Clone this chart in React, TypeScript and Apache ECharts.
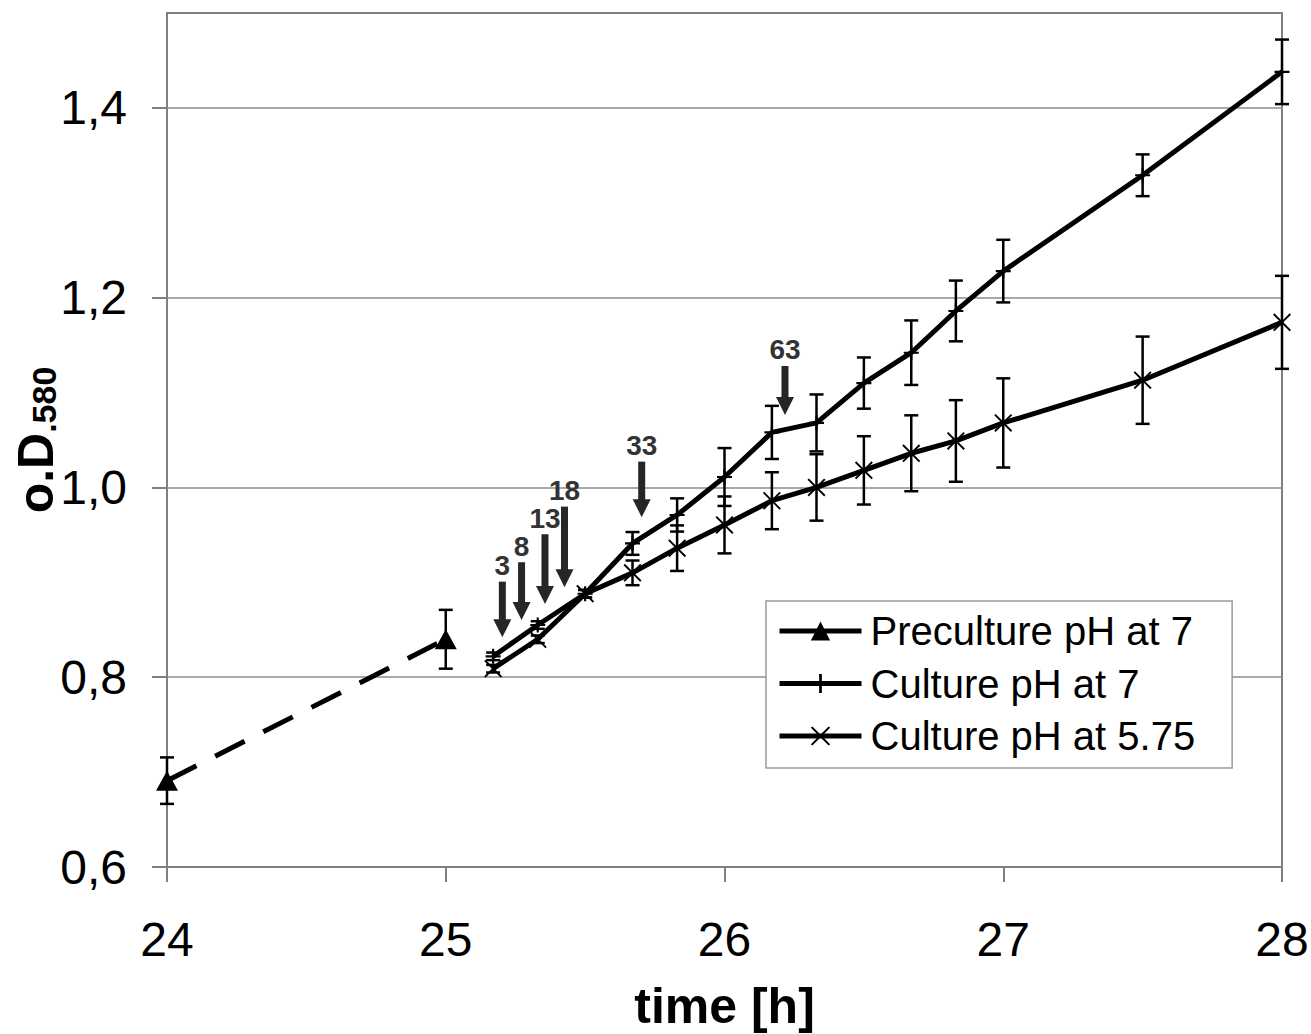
import React, { useEffect, useRef } from "react";
import * as echarts from "echarts";

// ---- data ----
const xTicks = [24, 25, 26, 27, 28];
const yTicks = [0.6, 0.8, 1.0, 1.2, 1.4];

const preTime = [24, 25];
const preValues = [0.691, 0.84];
const preErr = [0.0245, 0.031];

const cultureTime = [25.17, 25.33, 25.5, 25.67, 25.83, 26.0, 26.17, 26.33, 26.5, 26.67, 26.83, 27.0, 27.5, 28.0];
const c7Values = [0.822, 0.855, 0.888, 0.941, 0.971, 1.011, 1.058, 1.068, 1.11, 1.142, 1.186, 1.228, 1.329, 1.438];
const c7Err = [0.004, 0.004, 0.004, 0.012, 0.0175, 0.0305, 0.028, 0.03, 0.027, 0.034, 0.032, 0.033, 0.022, 0.034];
const c575Values = [0.809, 0.84, 0.888, 0.91, 0.936, 0.9605, 0.986, 1.0, 1.018, 1.036, 1.049, 1.068, 1.113, 1.174];
const c575Err = [0.004, 0.004, 0.004, 0.013, 0.024, 0.03, 0.03, 0.035, 0.036, 0.04, 0.043, 0.047, 0.046, 0.049];

const arrowTime = [25.203, 25.272, 25.356, 25.426, 25.703, 26.217];
const arrowTop = [0.9007, 0.9212, 0.9507, 0.9798, 1.0272, 1.128];
const arrowTip = [0.8421, 0.8603, 0.8772, 0.8948, 0.9686, 1.0764];
const arrowLabels = ["3", "8", "13", "18", "33", "63"];

const names = ["Preculture pH at 7", "Culture pH at 7", "Culture pH at 5.75"];

const FONT = "'Liberation Sans', Arial, sans-serif";
const PLUS = "path://M6,0H8V6H14V8H8V14H6V8H0V6H6Z";
const CROSS =
  "path://M0,1.5L1.5,0L10,8.5L18.5,0L20,1.5L11.5,10L20,18.5L18.5,20L10,11.5L1.5,20L0,18.5L8.5,10Z";

function errData(t: number[], v: number[], e: number[]) {
  return t.map((x, i) => [x, v[i] - e[i], v[i] + e[i]]);
}

function errorBarSeries(data: number[][]) {
  return {
    type: "custom",
    z: 2,
    silent: true,
    data,
    encode: { x: 0, y: [1, 2] },
    renderItem: (params: any, api: any) => {
      const x = api.value(0);
      const lo = api.coord([x, api.value(1)]);
      const hi = api.coord([x, api.value(2)]);
      const w = 7;
      const st = { stroke: "#000", lineWidth: 2.5 };
      return {
        type: "group",
        children: [
          { type: "line", shape: { x1: lo[0], y1: lo[1], x2: hi[0], y2: hi[1] }, style: st },
          { type: "line", shape: { x1: lo[0] - w, y1: lo[1], x2: lo[0] + w, y2: lo[1] }, style: st },
          { type: "line", shape: { x1: hi[0] - w, y1: hi[1], x2: hi[0] + w, y2: hi[1] }, style: st },
        ],
      };
    },
  };
}

export default function App() {
  const ref = useRef<HTMLDivElement>(null);
  useEffect(() => {
    document.body.style.margin = "0";
    if (!ref.current) return;
    const chart = echarts.init(ref.current, null, { renderer: "svg" });
    const option: any = {
      animation: false,
      backgroundColor: "#fff",
      textStyle: { fontFamily: FONT },
      grid: {
        left: 167,
        right: 29,
        top: 13,
        bottom: 167,
        show: true,
        containLabel: false,
        outerBoundsMode: "none",
        borderColor: "#808080",
        borderWidth: 2,
      },
      legend: {
        left: 766,
        top: 601,
        orient: "vertical",
        data: [{ name: names[0] }, { name: names[1] }, { name: names[2] }],
        itemWidth: 82,
        itemHeight: 24,
        itemGap: 12.5,
        padding: [10, 37, 12, 11],
        backgroundColor: "#fff",
        borderColor: "#9a9a9a",
        borderWidth: 1.5,
        borderRadius: 0,
        lineStyle: { width: 5, type: "solid" },
        textStyle: { fontSize: 40, color: "#000", fontFamily: FONT, padding: [0, 0, 0, 4] },
      },
      xAxis: {
        type: "value",
        min: 24,
        max: 28,
        interval: 1,
        name: "time [h]",
        nameLocation: "middle",
        nameGap: 114,
        nameMoveOverlap: false,
        nameTextStyle: { fontSize: 50, fontWeight: "bold", color: "#000", fontFamily: FONT },
        axisLine: { show: true, lineStyle: { color: "#808080", width: 2 } },
        axisTick: { show: true, inside: false, length: 15, lineStyle: { color: "#808080", width: 2 } },
        axisLabel: {
          fontSize: 48,
          color: "#000",
          margin: 48,
          fontFamily: FONT,
          formatter: (v: number) => (xTicks.indexOf(v) >= 0 ? String(v) : ""),
        },
        splitLine: { show: false },
      },
      yAxis: {
        type: "value",
        min: 0.6,
        max: 1.5,
        interval: 0.2,
        name: "{a|o.D}{b|.580}",
        nameLocation: "middle",
        nameGap: 106,
        nameMoveOverlap: false,
        nameRotate: 90,
        nameTextStyle: {
          color: "#000",
          fontFamily: FONT,
          rich: {
            a: { fontSize: 50, fontWeight: "bold", color: "#000", fontFamily: FONT, verticalAlign: "bottom" },
            b: { fontSize: 34, fontWeight: "bold", color: "#000", fontFamily: FONT, verticalAlign: "bottom" },
          },
        },
        axisLine: { show: true, lineStyle: { color: "#808080", width: 2 } },
        axisTick: {
          show: true,
          inside: false,
          length: 15,
          customValues: yTicks,
          lineStyle: { color: "#808080", width: 2 },
        },
        axisLabel: {
          fontSize: 48,
          color: "#000",
          margin: 40,
          fontFamily: FONT,
          formatter: (v: number) => {
            const hit = yTicks.find((t) => Math.abs(t - v) < 1e-6);
            return hit === undefined ? "" : hit.toFixed(1).replace(".", ",");
          },
        },
        splitLine: { show: true, lineStyle: { color: "#8c8c8c", width: 1.5 } },
      },
      series: [
        errorBarSeries(errData(preTime, preValues, preErr)),
        errorBarSeries(errData(cultureTime, c7Values, c7Err)),
        errorBarSeries(errData(cultureTime, c575Values, c575Err)),
        {
          name: names[0],
          type: "line",
          z: 3,
          data: preTime.map((t, i) => [t, preValues[i]]),
          symbol: "triangle",
          symbolSize: [22, 20],
          itemStyle: { color: "#000" },
          lineStyle: { color: "#000", width: 5, type: [33, 21], cap: "butt" },
          clip: false,
        },
        {
          name: names[1],
          type: "line",
          z: 3,
          data: cultureTime.map((t, i) => [t, c7Values[i]]),
          symbol: PLUS,
          symbolSize: 15,
          itemStyle: { color: "#000" },
          lineStyle: { color: "#000", width: 5 },
          clip: false,
        },
        {
          name: names[2],
          type: "line",
          z: 3,
          data: cultureTime.map((t, i) => [t, c575Values[i]]),
          symbol: CROSS,
          symbolSize: 18,
          itemStyle: { color: "#000" },
          lineStyle: { color: "#000", width: 5 },
          clip: false,
        },
        {
          type: "custom",
          z: 4,
          silent: true,
          data: arrowTime.map((t, i) => [t, arrowTop[i], arrowTip[i]]),
          encode: { x: 0, y: [1, 2] },
          renderItem: (params: any, api: any) => {
            const x = api.value(0);
            const top = api.coord([x, api.value(1)]);
            const tip = api.coord([x, api.value(2)]);
            const headH = 18;
            const headW = 9;
            const col = "#262626";
            return {
              type: "group",
              children: [
                {
                  type: "rect",
                  shape: { x: top[0] - 3.5, y: top[1], width: 7, height: tip[1] - headH - top[1] + 1 },
                  style: { fill: col },
                },
                {
                  type: "polygon",
                  shape: {
                    points: [
                      [tip[0] - headW, tip[1] - headH],
                      [tip[0] + headW, tip[1] - headH],
                      [tip[0], tip[1]],
                    ],
                  },
                  style: { fill: col },
                },
                {
                  type: "text",
                  x: top[0],
                  y: top[1] - 2,
                  style: {
                    text: arrowLabels[params.dataIndex],
                    fill: "#333",
                    font: "bold 28px 'Liberation Sans', Arial, sans-serif",
                    textAlign: "center",
                    textVerticalAlign: "bottom",
                  },
                },
              ],
            };
          },
        },
      ],
    };
    chart.setOption(option);
    return () => chart.dispose();
  }, []);
  return <div ref={ref} style={{ width: 1311, height: 1034 }} />;
}
